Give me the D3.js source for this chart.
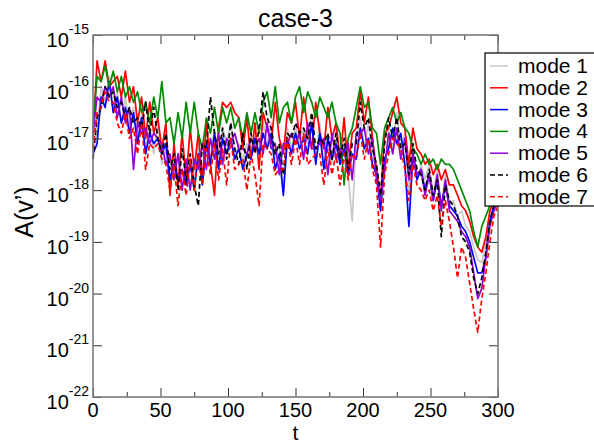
<!DOCTYPE html>
<html>
<head>
<meta charset="utf-8">
<script src="https://cdn.jsdelivr.net/npm/d3@7"></script>
<style>
  body { margin: 0; background: #fff; }
  svg { font-family: "Liberation Sans", Arial, sans-serif; }
</style>
</head>
<body>
<div id="chart_area"></div>
<script>
const margin = {top: 35, right: 96, bottom: 48, left: 93}
const width = 594 - margin.left - margin.right
const height = 445 - margin.top - margin.bottom

// sample times (every 3 time units)
var tValues = d3.range(0, 301, 3)

// series, stored as log10 of A(v')
var mode1 = [
  -17.1,-16.9,-16.0,-16.3,-15.8,-16.4,-16.1,-16.7,-16.2,-16.8,
  -16.4,-17.0,-16.5,-17.2,-16.7,-17.3,-16.7,-17.5,-17.2,-17.8,
  -17.4,-17.9,-17.6,-17.8,-17.3,-17.8,-17.1,-17.8,-17.0,-17.4,
  -16.8,-17.5,-16.8,-17.1,-16.7,-17.4,-17.1,-17.4,-17.1,-17.4,
  -16.9,-17.2,-16.7,-17.1,-16.7,-17.4,-17.1,-18.0,-16.8,-17.2,
  -16.8,-17.1,-16.8,-17.1,-16.6,-17.4,-16.7,-17.5,-16.9,-17.5,
  -16.8,-17.5,-17.0,-17.7,-18.6,-17.0,-16.6,-17.2,-16.7,-17.4,
  -17.5,-18.3,-17.7,-16.8,-17.2,-16.5,-17.2,-16.9,-18.0,-17.1,
  -17.8,-17.5,-17.8,-17.5,-18.1,-17.6,-18.3,-17.7,-18.3,-18.2,
  -18.5,-18.4,-18.7,-18.8,-19.1,-19.35,-19.4,-19.0,-18.5,-18.3,-18.2]
var mode2 = [
  -17.0,-15.5,-15.9,-15.5,-16.0,-15.9,-15.8,-16.2,-15.7,-16.3,
  -16.0,-16.7,-16.2,-17.0,-16.3,-16.9,-16.6,-17.2,-16.7,-18.1,
  -17.1,-17.9,-16.9,-17.8,-16.8,-17.6,-16.9,-17.8,-16.7,-17.5,
  -18.1,-16.8,-16.3,-16.4,-16.3,-16.5,-16.6,-17.2,-16.6,-17.4,
  -16.7,-17.6,-16.5,-16.8,-17.1,-16.3,-17.0,-17.3,-16.5,-16.7,
  -16.3,-17.0,-16.2,-16.8,-17.2,-16.3,-16.9,-17.2,-16.4,-17.0,
  -16.7,-17.4,-16.6,-17.6,-16.9,-16.8,-16.1,-16.7,-16.2,-17.0,
  -17.6,-18.2,-16.9,-16.8,-16.5,-16.2,-16.7,-16.8,-17.5,-16.8,
  -17.2,-17.3,-17.5,-17.4,-17.7,-17.5,-17.8,-17.6,-17.9,-17.9,
  -18.1,-18.3,-18.4,-18.6,-18.9,-19.1,-19.2,-18.9,-18.4,-18.2,-18.0]
var mode3 = [
  -17.3,-17.1,-16.2,-16.4,-15.9,-16.5,-16.2,-16.7,-16.4,-16.9,
  -16.5,-17.1,-16.6,-17.3,-16.9,-17.1,-17.0,-17.3,-17.1,-17.8,
  -17.5,-17.8,-17.6,-17.9,-17.5,-18.0,-17.3,-17.9,-17.1,-17.5,
  -16.9,-17.6,-17.0,-17.3,-17.0,-17.4,-17.2,-17.6,-17.3,-17.4,
  -17.0,-17.3,-16.9,-17.2,-16.9,-17.6,-17.3,-18.1,-17.0,-17.3,
  -16.9,-17.2,-17.0,-17.3,-16.7,-17.5,-16.9,-17.6,-17.0,-17.4,
  -17.1,-17.5,-17.2,-17.7,-17.3,-17.4,-16.8,-17.2,-17.0,-17.5,
  -17.7,-18.4,-17.4,-17.2,-16.8,-17.1,-16.9,-17.5,-18.7,-17.3,
  -17.8,-17.6,-18.0,-17.7,-18.2,-17.8,-18.3,-17.9,-18.3,-18.4,
  -18.5,-18.7,-18.8,-19.0,-19.3,-19.6,-19.6,-19.3,-18.6,-18.3,-18.2]
var mode4 = [
  -16.8,-15.8,-15.9,-15.6,-16.0,-15.7,-16.1,-15.8,-16.2,-16.0,
  -16.3,-16.1,-16.5,-16.3,-16.7,-16.2,-16.6,-15.9,-16.7,-16.6,
  -17.1,-16.5,-17.0,-16.3,-16.9,-16.3,-16.9,-17.2,-16.6,-16.9,
  -16.4,-16.9,-16.4,-16.7,-16.4,-16.8,-16.6,-17.0,-16.5,-16.9,
  -16.5,-16.9,-16.3,-16.1,-16.6,-16.0,-16.7,-16.4,-16.3,-16.7,
  -16.2,-16.0,-16.5,-16.1,-16.3,-16.6,-16.2,-16.4,-16.6,-16.3,
  -16.7,-16.9,-17.9,-17.0,-16.8,-16.4,-16.0,-16.4,-16.3,-16.8,
  -16.9,-17.5,-16.8,-16.6,-16.4,-16.7,-16.5,-16.8,-16.9,-17.2,
  -17.3,-17.5,-17.3,-17.5,-17.4,-17.6,-17.4,-17.5,-17.5,-17.6,
  -17.8,-18.0,-18.2,-18.4,-18.8,-19.1,-18.7,-18.5,-18.3,-18.3,-18.1]
var mode5 = [
  -16.9,-16.2,-16.3,-16.0,-16.2,-16.0,-16.6,-16.2,-16.7,-16.4,
  -17.6,-16.7,-16.9,-16.8,-17.1,-16.9,-17.0,-17.1,-17.5,-17.3,
  -17.8,-17.3,-18.0,-17.4,-18.0,-17.4,-17.6,-17.1,-17.6,-17.0,
  -17.4,-16.9,-17.5,-17.0,-17.1,-16.9,-17.2,-17.2,-17.3,-17.0,
  -17.2,-17.0,-17.3,-16.7,-17.2,-17.1,-17.7,-17.1,-17.1,-16.9,
  -17.1,-16.9,-17.4,-16.7,-17.2,-17.2,-17.1,-17.0,-17.7,-16.9,
  -17.4,-17.2,-17.3,-17.1,-17.8,-16.9,-16.9,-16.8,-17.3,-17.0,
  -17.8,-18.2,-17.6,-16.9,-17.3,-16.8,-17.4,-17.0,-17.8,-17.3,
  -17.7,-17.6,-18.1,-17.7,-18.2,-17.7,-18.4,-17.8,-18.4,-18.5,
  -18.6,-18.8,-18.9,-19.1,-19.6,-20.1,-19.9,-19.3,-18.7,-18.4,-18.2]
var mode6 = [
  -17.4,-16.6,-16.4,-16.0,-16.2,-16.1,-16.4,-16.3,-16.6,-16.4,
  -16.7,-16.6,-16.8,-16.3,-16.9,-16.4,-17.0,-17.3,-16.9,-17.6,
  -17.3,-18.0,-17.2,-17.8,-17.3,-17.9,-18.3,-17.1,-17.2,-16.2,
  -16.9,-17.3,-16.8,-17.4,-16.7,-17.2,-17.5,-16.9,-17.6,-16.9,
  -17.3,-16.8,-16.1,-16.6,-16.8,-17.3,-17.1,-17.7,-16.9,-17.0,
  -16.7,-16.9,-16.8,-17.0,-16.5,-17.2,-17.0,-17.1,-16.9,-17.4,
  -16.9,-17.4,-17.0,-17.6,-17.1,-17.1,-16.3,-16.8,-16.6,-17.2,
  -17.5,-18.1,-17.1,-16.6,-17.0,-16.6,-17.2,-17.1,-17.7,-17.1,
  -17.6,-17.7,-18.0,-17.6,-18.1,-17.8,-18.9,-17.9,-18.2,-18.3,
  -18.5,-18.9,-19.0,-19.2,-19.7,-20.0,-19.7,-19.2,-18.6,-18.3,-18.2]
var mode7 = [
  -17.2,-16.5,-16.4,-16.1,-16.3,-16.3,-16.7,-16.9,-16.5,-17.0,
  -16.8,-17.3,-16.7,-17.6,-17.1,-17.2,-17.1,-17.4,-17.5,-18.0,
  -17.5,-18.3,-17.6,-18.1,-17.4,-18.0,-17.3,-17.9,-17.2,-17.7,
  -17.1,-17.8,-17.2,-17.9,-17.0,-17.6,-17.5,-17.4,-18.0,-17.3,
  -17.7,-18.3,-17.1,-17.2,-17.3,-17.7,-17.6,-17.6,-17.0,-17.5,
  -17.0,-17.5,-16.9,-17.5,-17.4,-17.3,-17.3,-17.9,-17.2,-17.7,
  -17.3,-17.9,-17.3,-17.8,-17.3,-17.4,-16.9,-17.4,-17.0,-17.6,
  -17.9,-19.1,-17.7,-17.3,-17.0,-17.1,-17.2,-17.6,-18.2,-17.5,
  -17.9,-18.0,-18.2,-18.0,-18.4,-18.1,-18.7,-18.2,-18.6,-19.1,
  -19.7,-19.1,-19.3,-19.8,-20.3,-20.75,-20.1,-19.6,-19.0,-18.5,-18.3]

var seriesNames = ["mode 1", "mode 2", "mode 3", "mode 4", "mode 5", "mode 6", "mode 7"]
var seriesValues = [mode1, mode2, mode3, mode4, mode5, mode6, mode7]
var seriesColors = ["#c8c8c8", "#ff0000", "#0000ff", "#008b00", "#9400d3", "#000000", "#ff0000"]
var seriesDash = [null, null, null, null, null, "5,3", "5,3"]

var xMajor = [0, 50, 100, 150, 200, 250, 300]
var xMinor = [25, 75, 125, 175, 225, 275]
var yExponents = [-15, -16, -17, -18, -19, -20, -21, -22]

var svg = d3.select("#chart_area")
  .append("svg")
  .attr("width", 594)
  .attr("height", 445)

var g = svg.append("g")
  .attr("transform", "translate(" + margin.left + "," + margin.top + ")")

var x = d3.scaleLinear().domain([0, 300]).range([0, width])
var y = d3.scaleLog().domain([1e-22, 1e-15]).range([height, 0])

// lines
var line = d3.line()
  .x(function(d) { return x(d.t) })
  .y(function(d) { return y(d.v) })

seriesValues.forEach(function(vals, i) {
  var data = vals.map(function(v, k) { return {t: tValues[k], v: Math.pow(10, v)} })
  g.append("path")
    .datum(data)
    .attr("fill", "none")
    .attr("stroke", seriesColors[i])
    .attr("stroke-width", 1.7)
    .attr("stroke-dasharray", seriesDash[i])
    .attr("stroke-linejoin", "round")
    .attr("d", line)
})

// ticks (inward, on all four sides)
function styleAxis(sel) {
  sel.select(".domain").remove()
  sel.selectAll(".tick line").attr("stroke", "#333").attr("stroke-width", 1)
}
g.append("g").attr("transform", "translate(0," + height + ")")
  .call(d3.axisBottom(x).tickValues(xMajor).tickSize(-9).tickFormat("")).call(styleAxis)
g.append("g").attr("transform", "translate(0," + height + ")")
  .call(d3.axisBottom(x).tickValues(xMinor).tickSize(-5).tickFormat("")).call(styleAxis)
g.append("g")
  .call(d3.axisTop(x).tickValues(xMajor).tickSize(-9).tickFormat("")).call(styleAxis)
g.append("g")
  .call(d3.axisTop(x).tickValues(xMinor).tickSize(-5).tickFormat("")).call(styleAxis)
var yTickVals = yExponents.map(function(e) { return Math.pow(10, e) })
g.append("g")
  .call(d3.axisLeft(y).tickValues(yTickVals).tickSize(-9).tickFormat("")).call(styleAxis)
g.append("g").attr("transform", "translate(" + width + ",0)")
  .call(d3.axisRight(y).tickValues(yTickVals).tickSize(-9).tickFormat("")).call(styleAxis)

// frame
g.append("rect")
  .attr("width", width)
  .attr("height", height)
  .attr("fill", "none")
  .attr("stroke", "#7a7a7a")
  .attr("stroke-width", 1.6)

// x tick labels
g.selectAll(".xlab")
  .data(xMajor)
  .enter()
  .append("text")
    .attr("x", function(d) { return x(d) })
    .attr("y", height + 20)
    .attr("text-anchor", "middle")
    .attr("font-size", 20)
    .text(function(d) { return d })

// y tick labels: 10 with superscript exponent
var ylab = g.selectAll(".ylab")
  .data(yExponents)
  .enter()
  .append("text")
    .attr("x", -4)
    .attr("y", function(d) { return y(Math.pow(10, d)) + 12 })
    .attr("text-anchor", "end")
    .attr("font-size", 20)
ylab.append("tspan").text("10")
ylab.append("tspan").attr("dy", -13).attr("font-size", 14).text(function(d) { return d })

// titles
svg.append("text")
  .attr("x", margin.left + width / 2)
  .attr("y", 27)
  .attr("text-anchor", "middle")
  .attr("font-size", 25)
  .text("case-3")
svg.append("text")
  .attr("x", margin.left + width / 2)
  .attr("y", 440)
  .attr("text-anchor", "middle")
  .attr("font-size", 21)
  .text("t")
svg.append("text")
  .attr("transform", "translate(33," + 212 + ") rotate(-90)")
  .attr("text-anchor", "middle")
  .attr("font-size", 25)
  .text("A(v\u2019)")

// legend
var legend = svg.append("g").attr("transform", "translate(485,53)")
legend.append("rect")
  .attr("width", 120)
  .attr("height", 153)
  .attr("fill", "#fff")
  .attr("stroke", "#000")
  .attr("stroke-width", 1.2)
seriesNames.forEach(function(name, i) {
  var cy = 13 + i * 21.8
  legend.append("line")
    .attr("x1", 5).attr("x2", 23)
    .attr("y1", cy).attr("y2", cy)
    .attr("stroke", seriesColors[i])
    .attr("stroke-width", 1.5)
    .attr("stroke-dasharray", seriesDash[i])
  legend.append("text")
    .attr("x", 33)
    .attr("y", cy + 7)
    .attr("font-size", 21)
    .text(name)
})
</script>
</body>
</html>
